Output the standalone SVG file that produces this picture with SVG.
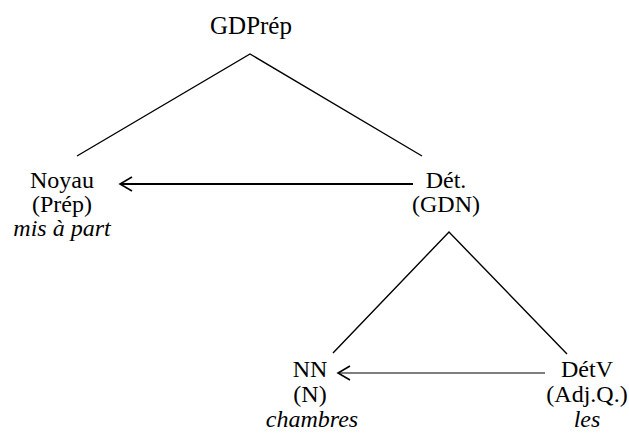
<svg xmlns="http://www.w3.org/2000/svg" width="629" height="434" viewBox="0 0 629 434">
<style>
text{font-family:"Liberation Serif","Times New Roman",serif;font-size:24px;fill:#000;text-anchor:middle}
.it{font-style:italic}
.big{font-size:25px}
.edge{stroke:#000;stroke-width:1.4;fill:none}
.arr1{stroke:#000;stroke-width:2;fill:none}
.arr2{stroke:#000;stroke-width:1.2;fill:none}
</style>
<defs>
<marker id="open" markerUnits="userSpaceOnUse" markerWidth="30" markerHeight="30" viewBox="-15 -15 30 30" refX="0" refY="0" orient="auto">
<path d="M-12,-7 L0,0 L-12,7" fill="none" stroke="#000" stroke-width="1.6"/>
</marker>
</defs>
<rect width="629" height="434" fill="#fff"/>
<g id="connectors">
<polyline class="edge" points="77,156 250,54 422,156"/>
<polyline class="edge" points="333,353 449,232 567,354"/>
<line class="arr1" x1="413" y1="184" x2="120" y2="184" marker-end="url(#open)"/>
<line class="arr2" x1="545" y1="373" x2="338" y2="373" marker-end="url(#open)"/>
</g>
<g id="gdprep"><text class="big" x="251" y="34">GDPrép</text></g>
<g id="noyau">
<text x="62" y="188">Noyau</text>
<text x="62" y="212">(Prép)</text>
<text x="62" y="236" class="it">mis à part</text>
</g>
<g id="det">
<text x="446" y="188">Dét.</text>
<text x="446" y="212">(GDN)</text>
</g>
<g id="nn">
<text x="310" y="377">NN</text>
<text x="310" y="402">(N)</text>
<text x="312" y="427" class="it">chambres</text>
</g>
<g id="detv">
<text x="587" y="377">DétV</text>
<text x="587" y="402">(Adj.Q.)</text>
<text x="587" y="427" class="it">les</text>
</g>
</svg>
